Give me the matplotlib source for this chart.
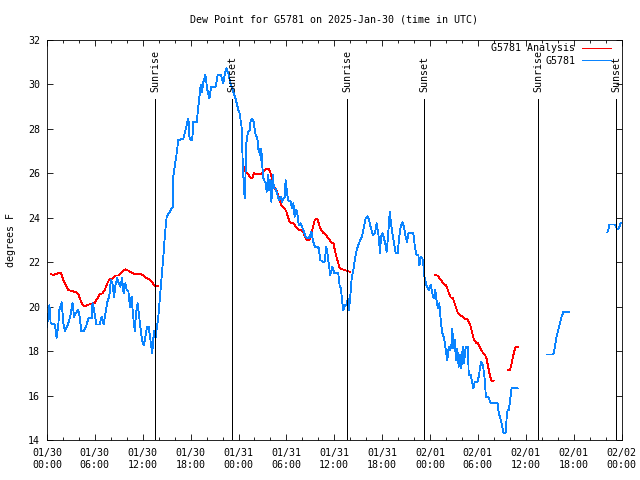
import numpy as np
import matplotlib
matplotlib.use("Agg")
import matplotlib.pyplot as plt

nan = float("nan")

# hours since 2025-01-30 00:00 UTC
obs_hours = [0.0, 0.3, 0.46, 1.0, 1.2, 1.4, 1.55, 1.84, 2.05, 2.25, 2.67, 2.9, 3.2, 3.4, 3.6, 3.9,
             4.1, 4.3, 4.6, 4.9, 5.2, 5.6, 5.7, 5.9, 6.2, 6.6, 6.85, 7.1, 7.4, 7.55, 7.8, 8.0,
             8.2, 8.4, 8.6, 8.8, 9.0, 9.2, 9.4, 9.6, 9.8, 10.0, 10.2, 10.4, 10.6, 10.8, 11.0,
             11.15, 11.35, 11.55, 11.75, 11.9, 12.15, 12.35, 12.55, 12.75, 13.0, 13.2, 13.3,
             13.45, 13.6, 13.75, 13.95, 14.16, 14.37, 14.58, 14.79, 15.0, 15.4, 15.76, 15.83,
             16.04, 16.25, 16.46, 17.09, 17.3, 17.6, 17.72, 17.85, 18.0, 18.2, 18.34, 18.76,
             19.05, 19.26, 19.43, 19.6, 19.85, 20.1, 20.35, 20.56, 21.14, 21.39, 21.81, 22.1,
             22.3, 22.5, 22.73, 22.94, 23.27, 23.56, 23.98, 24.14, 24.44, 24.5, 24.65, 24.77,
             24.86, 24.98, 25.19, 25.4, 25.5, 25.7, 25.9, 26.1, 26.36, 26.53, 26.7, 26.78,
             26.86, 26.98, 27.1, 27.4, 27.53, 27.7, 27.79, 27.95, 28.13, 28.28, 28.45, 28.66,
             28.83, 29.04, 29.3, 29.45, 29.66, 29.8, 29.9, 30.03, 30.2, 30.53, 30.7, 30.87,
             31.04, 31.25, 31.4, 31.54, 31.75, 31.96, 32.2, 32.4, 32.73, 32.94, 33.15, 33.36,
             33.57, 33.9, 34.07, 34.24, 34.6, 34.8, 35.0, 35.15, 35.3, 35.5, 35.76, 36.0,
             36.5, 36.67, 36.84, 36.97, 37.13, 37.34, 37.56, 37.68, 37.85, 38.02, 38.18, 38.39,
             38.6, 38.81, 39.0, 39.27, 39.52, 39.77, 39.94, 40.15, 40.36, 40.6, 40.86, 41.1,
             41.32, 41.44, 41.6, 41.73, 41.86, 42.07, 42.28, 42.45, 42.57, 42.7, 42.86, 42.95,
             43.07, 43.28, 43.53, 43.7, 43.95, 44.12, 44.33, 44.54, 44.74, 44.95, 45.12, 45.3,
             45.5, 45.9, 46.13, 46.33, 46.54, 46.67, 46.87, 47.04, 47.21, 47.3, 47.54, 47.83,
             48.08, 48.25, 48.46, 48.67, 48.84, 49.0, 49.17, 49.34, 49.51, 49.76, 49.92, 50.17,
             50.34, 50.5, 50.67, 50.8, 50.92, 51.09, 51.26, 51.42, 51.59, 51.76, 51.93, 52.1,
             52.26, 52.47, 52.76, 52.85, 53.1, 53.27, 53.44, 53.6, 53.94, 54.15, 54.28, 54.45,
             54.66, 54.87, 55.0, 55.29, 55.63, 56.46, 56.63, 56.88, 57.05, 57.22, 57.47, 57.6,
             57.72, 57.89, 58.06, 58.23, 58.64, 58.98, 60.0,
             62.7, 63.45, 63.66, 63.87, 64.07, 64.29, 64.5, 64.71, 65.46, 66.0,
             70.23, 70.4, 70.48, 71.2, 71.4, 71.6, 71.73, 71.9, 72.0]
obs_dewpt = [19.1, 20.07, 19.25, 19.2, 18.6, 19.1, 19.85, 20.2, 19.25, 18.9, 19.25, 19.55, 20.15,
             19.55, 19.7, 19.85, 19.55, 18.9, 18.9, 19.1, 19.5, 19.5, 20.15, 19.85, 19.2, 19.2,
             19.55, 19.2, 19.85, 20.2, 20.45, 21.2, 21.05, 20.45, 21.0, 21.3, 21.05, 20.9, 21.3,
             20.6, 21.05, 20.75, 20.7, 20.0, 20.45, 19.55, 18.9, 19.7, 20.15, 19.55, 18.95, 18.5,
             18.25, 18.7, 19.1, 19.1, 18.4, 17.9, 18.5, 18.9, 18.6, 19.0, 19.55, 20.45, 21.35,
             22.25, 23.3, 24.05, 24.27, 24.5, 25.85, 26.37, 26.9, 27.5, 27.55, 27.87, 28.32,
             28.47, 27.65, 27.5, 27.5, 28.32, 28.32, 29.3, 29.97, 29.67, 30.12, 30.42, 29.75,
             29.37, 29.87, 29.9, 30.42, 30.42, 30.05, 30.5, 30.73, 30.5, 30.12, 29.75, 29.45,
             28.85, 28.7, 27.95, 26.75, 25.55, 24.87, 25.7, 27.35, 27.87, 27.95, 28.32, 28.47,
             28.32, 27.8, 27.57, 26.97, 27.12, 26.6, 27.12, 26.37, 25.78, 25.55, 25.17, 25.92,
             25.25, 25.7, 24.72, 25.92, 25.32, 25.32, 25.1, 24.8, 24.95, 24.72, 24.87, 24.95,
             25.7, 25.32, 24.8, 24.72, 24.42, 24.65, 24.05, 24.35, 24.12, 23.67, 23.75, 23.6,
             23.37, 23.15, 23.07, 23.15, 23.37, 22.92, 22.7, 22.7, 22.62, 22.1, 22.02, 22.02,
             22.7, 22.4, 21.95, 21.42, 21.8, 21.5, 21.5, 20.97, 20.82, 20.3, 19.85, 20.07, 20.07,
             20.37, 19.85, 20.52, 21.27, 21.65, 22.17, 22.55, 22.77, 23.0, 23.22, 23.67, 23.97,
             24.07, 23.9, 23.52, 23.22, 23.3, 23.75, 23.45, 23.07, 22.4, 23.15, 23.3, 23.0,
             22.77, 22.47, 23.0, 23.75, 24.27, 23.9, 23.3, 22.77, 22.4, 22.4, 23.07, 23.6, 23.8,
             23.6, 23.15, 22.92, 23.3, 23.32, 23.32, 22.62, 22.32, 22.32, 21.87, 22.25, 22.17,
             21.8, 21.35, 20.97, 20.75, 20.97, 20.67, 20.37, 20.75, 20.22, 19.92, 20.15, 19.4,
             18.87, 18.57, 18.2, 17.6, 18.2, 18.05, 18.2, 19.02, 18.12, 18.5, 17.6, 18.12, 17.3,
             17.82, 17.22, 18.2, 17.45, 18.17, 18.17, 16.92, 16.92, 16.62, 16.32, 16.62, 16.62,
             16.92, 17.3, 17.52, 17.3, 16.7, 15.95, 15.95, 15.65, 15.65, 15.2, 14.9, 14.6, 14.3,
             14.3, 14.97, 15.35, 15.35, 15.87, 16.32, 16.35, 16.32, nan,
             17.85, 17.85, 18.2, 18.65, 18.95, 19.25, 19.55, 19.77, 19.77, nan,
             23.35, 23.52, 23.7, 23.7, 23.52, 23.5, 23.6, 23.75, 23.75]

ana_hours = [0.46, 0.8, 1.13, 1.42, 1.75, 2.05, 2.38, 2.67, 3.1, 3.5, 3.93, 4.2, 4.47, 4.72, 4.97,
             5.47, 5.93, 6.3, 6.64, 6.98, 7.27, 7.56, 7.81, 8.23, 8.52, 8.94, 9.23, 9.57, 9.86,
             10.19, 10.61, 11.03, 11.65, 11.99, 12.41, 12.82, 13.12, 13.41, 13.62, 13.74, 13.95, 14.5,
             24.69, 24.86, 25.11, 25.4, 25.7, 25.95, 26.45, 26.78, 27.07, 27.37, 27.7, 27.95,
             28.13, 28.33, 28.54, 28.75, 28.96, 29.17, 29.37, 29.58, 29.79, 30.0, 30.2, 30.41,
             30.63, 30.87, 31.04, 31.25, 31.46, 31.88, 32.08, 32.29, 32.5, 32.71, 32.92, 33.13,
             33.34, 33.55, 33.76, 33.97, 34.18, 34.39, 34.6, 34.9, 35.15, 35.44, 35.64, 35.9,
             36.07, 36.27, 36.5, 36.7, 37.1, 37.53, 37.94, 38.5,
             48.67, 49.0, 49.21, 49.51, 49.76, 49.96, 50.17, 50.38, 50.59, 50.88, 51.09, 51.3,
             51.51, 51.72, 52.01, 52.35, 52.68, 52.89, 53.1, 53.31, 53.52, 53.81, 54.03, 54.24,
             54.45, 54.66, 54.87, 55.08, 55.29, 55.5, 55.71, 55.96, 56.5,
             57.72, 58.02, 58.23, 58.44, 58.65, 58.77, 58.98]
ana_dewpt = [21.47, 21.42, 21.47, 21.5, 21.5, 21.2, 20.93, 20.75, 20.7, 20.67, 20.57, 20.3, 20.07,
             20.0, 20.07, 20.12, 20.15, 20.37, 20.57, 20.6, 20.78, 21.05, 21.23, 21.27, 21.4, 21.4,
             21.5, 21.62, 21.68, 21.62, 21.53, 21.47, 21.47, 21.42, 21.3, 21.23, 21.12, 20.97,
             20.9, 20.93, 20.95, nan,
             26.3, 26.07, 26.0, 25.85, 25.77, 26.0, 25.97, 25.97, 26.07, 26.18, 26.22, 26.12,
             25.85, 25.55, 25.32, 25.25, 25.02, 24.8, 24.57, 24.47, 24.42, 24.27, 24.05, 23.82,
             23.75, 23.77, 23.67, 23.57, 23.47, 23.45, 23.37, 23.18, 23.03, 23.0, 23.03, 23.3,
             23.6, 23.9, 23.97, 23.87, 23.6, 23.45, 23.33, 23.27, 23.12, 23.0, 22.88, 22.85,
             22.55, 22.25, 21.95, 21.72, 21.67, 21.62, 21.57, nan,
             21.42, 21.39, 21.27, 21.12, 21.0, 20.97, 20.82, 20.6, 20.42, 20.37, 20.15, 19.92,
             19.7, 19.62, 19.57, 19.47, 19.42, 19.32, 19.1, 18.8, 18.5, 18.37, 18.35, 18.2, 18.05,
             17.9, 17.85, 17.67, 17.3, 16.92, 16.67, 16.65, nan,
             17.15, 17.15, 17.45, 17.82, 18.12, 18.17, 18.17]

sun_hours = [13.57, 23.22, 37.64, 47.29, 61.57, 71.35]
sun_labels = ["Sunrise", "Sunset", "Sunrise", "Sunset", "Sunrise", "Sunset"]

tick_hours = [0, 6, 12, 18, 24, 30, 36, 42, 48, 54, 60, 66, 72]
tick_labels = ["01/30\n00:00", "01/30\n06:00", "01/30\n12:00", "01/30\n18:00",
               "01/31\n00:00", "01/31\n06:00", "01/31\n12:00", "01/31\n18:00",
               "02/01\n00:00", "02/01\n06:00", "02/01\n12:00", "02/01\n18:00",
               "02/02\n00:00"]

plt.rcParams["font.family"] = ["DejaVu Sans Mono"]
plt.rcParams["font.size"] = 7.2
plt.rcParams["lines.antialiased"] = False

LW = 0.6

fig = plt.figure(figsize=(6.4, 4.8), dpi=100)
ax = fig.add_axes([47 / 640, 40 / 480, 574.5 / 640, 400 / 480])

ax.plot(ana_hours, ana_dewpt, color="#ff0000", lw=LW, label="G5781 Analysis")
ax.plot(obs_hours, obs_dewpt, color="#0a84ff", lw=LW, label="G5781")

for h, name in zip(sun_hours, sun_labels):
    ax.plot([h, h], [14, 29.35], color="black", lw=LW)
    ax.text(h, 29.66, name, rotation=90, ha="center", va="bottom", clip_on=False)

ax.set_xlim(0, 72)
ax.set_ylim(14, 32)
ax.set_xticks(tick_hours)
ax.set_xticklabels(tick_labels)
ax.set_xticks(np.arange(0, 73, 2), minor=True)
ax.set_yticks(np.arange(14, 33, 2))
ax.tick_params(which="both", direction="in", top=True, right=True, width=LW)
ax.tick_params(which="major", length=4.5)
ax.tick_params(which="minor", length=2.5)
ax.tick_params(axis="x", pad=6)
ax.tick_params(axis="y", pad=5)
for s in ax.spines.values():
    s.set_linewidth(LW)

ax.set_ylabel("degrees F", labelpad=9)
fig.text(334 / 640, 1 - 19 / 480, "Dew Point for G5781 on 2025-Jan-30 (time in UTC)",
         ha="center", va="center")

ax.legend(loc="upper right", bbox_to_anchor=(611 / 640, 1 - 43 / 480),
          bbox_transform=fig.transFigure, frameon=False, markerfirst=False,
          handlelength=2.9, handletextpad=0.7, labelspacing=0.25,
          borderpad=0, borderaxespad=0)

fig.savefig("out.png", dpi=100)
